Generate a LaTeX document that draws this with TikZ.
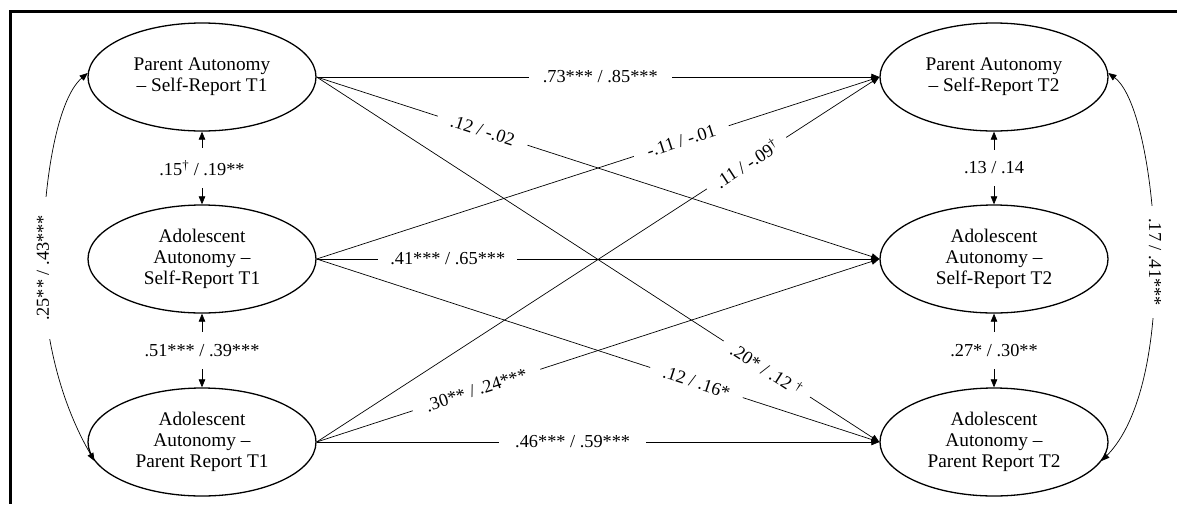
\documentclass[tikz,border=0pt]{standalone}
\usepackage{fontspec}
\setmainfont{Liberation Serif}
\usetikzlibrary{shapes.geometric,arrows.meta}
\begin{document}
\begin{tikzpicture}[x=1pt,y=-1pt,
 lat/.style={ellipse,draw,line width=1.3pt,minimum width=228pt,minimum height=108pt,inner sep=0pt,align=center,font=\fontsize{19.3}{21}\selectfont},
 arr/.style={line width=0.7pt,-{Triangle[length=8pt,width=6.5pt]}},
 darr/.style={line width=0.7pt,{Triangle[length=8pt,width=6.5pt]}-{Triangle[length=8pt,width=6.5pt]}},
 lab/.style={fill=white,font=\fontsize{18.3}{20}\selectfont,inner xsep=14pt,inner ysep=2pt},
 vlab/.style={fill=white,font=\fontsize{18.3}{20}\selectfont,inner xsep=4pt,inner ysep=12pt}
]
\useasboundingbox (0,0) rectangle (1177,504);
\draw[line width=3.5pt] (1177,11.5) -- (10.5,11.5) -- (10.5,504);

\node[lat] (PT1) at (202,77) {Parent Autonomy\\– Self-Report T1};
\node[lat] (AT1) at (202,259) {Adolescent\\Autonomy –\\Self-Report T1};
\node[lat] (PR1) at (202,442) {Adolescent\\Autonomy –\\Parent Report T1};
\node[lat] (PT2) at (994,77) {Parent Autonomy\\– Self-Report T2};
\node[lat] (AT2) at (994,259) {Adolescent\\Autonomy –\\Self-Report T2};
\node[lat] (PR2) at (994,442) {Adolescent\\Autonomy –\\Parent Report T2};

% cross-lagged paths
\draw[arr] (PT1.east) -- node[lab,pos=0.504]{.73*** / .85***} (PT2.west);
\draw[arr] (PT1.east) -- node[lab,sloped,pos=0.295]{.12 / -.02} (AT2.west);
\draw[arr] (PT1.east) -- node[lab,sloped,pos=0.80,inner xsep=11pt]{.20* / .12 \textsuperscript{\textdagger}} (PR2.west);
\draw[arr] (AT1.east) -- node[lab,sloped,pos=0.648]{-.11 / -.01} (PT2.west);
\draw[arr] (AT1.east) -- node[lab,pos=0.233,inner xsep=12pt]{.41*** / .65***} (AT2.west);
\draw[arr] (AT1.east) -- node[lab,sloped,pos=0.675]{.12 / .16*} (PR2.west);
\draw[arr] (PR1.east) -- node[lab,sloped,pos=0.764,inner xsep=11pt]{.11 / -.09\textsuperscript{\textdagger}} (PT2.west);
\draw[arr] (PR1.east) -- node[lab,sloped,pos=0.284]{.30** / .24***} (AT2.west);
\draw[arr] (PR1.east) -- node[lab,pos=0.455,inner xsep=16pt]{.46*** / .59***} (PR2.west);

% within-time correlations
\draw[darr] (PT1.south) -- node[vlab]{.15\textsuperscript{\textdagger} / .19**} (AT1.north);
\draw[darr] (AT1.south) -- node[vlab]{.51*** / .39***} (PR1.north);
\draw[darr] (PT2.south) -- node[vlab]{.13 / .14} (AT2.north);
\draw[darr] (AT2.south) -- node[vlab]{.27* / .30**} (PR2.north);

% stability correlations
\draw[darr] (PR1.190) .. controls (62,405) and (44,340) .. (43,268)
  node[lab,rotate=90,inner xsep=18pt]{.25** / .43***}
  .. controls (42,190) and (56,100) .. (PT1.178);
\draw[darr] (PT2.2) .. controls (1138,95) and (1154,180) .. (1155,262)
  node[lab,rotate=-90,inner xsep=12pt]{.17 / .41***}
  .. controls (1156,340) and (1142,420) .. (PR2.350);
\end{tikzpicture}
\end{document}
